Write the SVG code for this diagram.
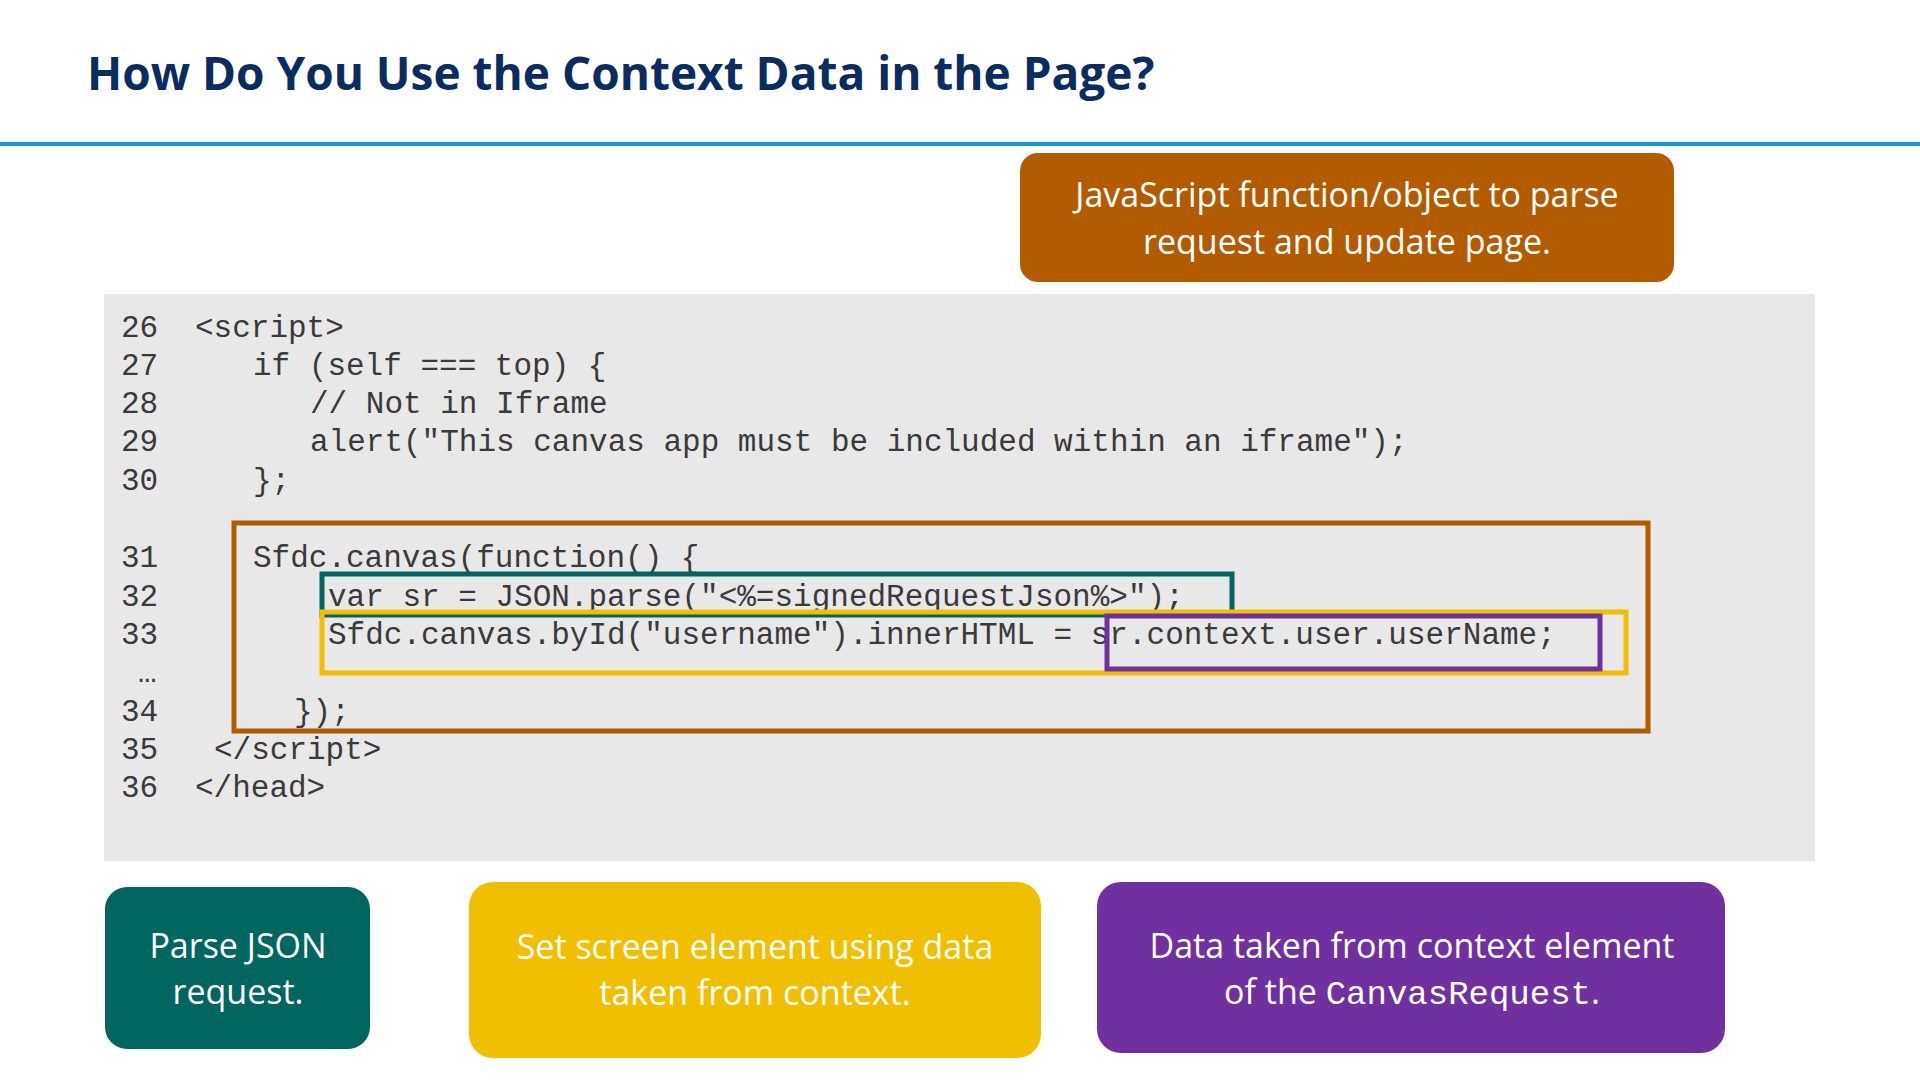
<svg xmlns="http://www.w3.org/2000/svg" width="1920" height="1080" viewBox="0 0 1920 1080">
<style>
.code{font-family:"Liberation Mono","Courier New",monospace;font-size:31px;fill:#3a3a3a}
.lbl{font-family:"Open Sans","Noto Sans",sans-serif;font-size:34px;fill:#fff;text-anchor:middle}
.hl{fill:none;stroke-width:5}
</style>
<rect width="1920" height="1080" fill="#fff"/>
<text x="87" y="90" font-family="Open Sans, Noto Sans, sans-serif" font-weight="bold" font-size="46" fill="#0b2c5e">How Do You Use the Context Data in the Page?</text>
<rect x="0" y="142" width="1920" height="4" fill="#0a9ad8"/>
<g id="note-js">
<rect x="1020" y="153" width="654" height="129" rx="18" fill="#b35b00"/>
<text class="lbl" x="1347" y="207">JavaScript function/object to parse</text>
<text class="lbl" x="1347" y="254">request and update page.</text>
</g>
<g id="code">
<rect x="104" y="294" width="1711" height="567" fill="#e8e8e8"/>
<g class="code" xml:space="preserve">
<text x="121" y="337">26  <tspan x="195">&lt;script&gt;</tspan></text>
<text x="121" y="375">27<tspan x="253">if (self === top) {</tspan></text>
<text x="121" y="413">28<tspan x="310">// Not in Iframe</tspan></text>
<text x="121" y="451">29<tspan x="310">alert("This canvas app must be included within an iframe");</tspan></text>
<text x="121" y="490">30<tspan x="253">};</tspan></text>
<text x="121" y="567">31<tspan x="253">Sfdc.canvas(function() {</tspan></text>
<text x="121" y="606">32<tspan x="328">var sr = JSON.parse("&lt;%=signedRequestJson%&gt;");</tspan></text>
<text x="121" y="644">33<tspan x="328">Sfdc.canvas.byId("username").innerHTML = sr.context.user.userName;</tspan></text>
<text x="138" y="682">…</text>
<text x="121" y="721">34<tspan x="294">});</tspan></text>
<text x="121" y="759">35<tspan x="214">&lt;/script&gt;</tspan></text>
<text x="121" y="797">36<tspan x="195">&lt;/head&gt;</tspan></text>
</g>
</g>
<g id="connectors">
<rect class="hl" x="234" y="523" width="1414" height="208" stroke="#b35b00"/>
<rect class="hl" x="322" y="574" width="910" height="41" stroke="#00665e"/>
<rect class="hl" x="322" y="612" width="1304" height="61" stroke="#f0c000"/>
<rect class="hl" x="1107" y="616" width="493" height="53" stroke="#7030a0"/>
</g>
<g id="note-parse">
<rect x="105" y="887" width="265" height="162" rx="22" fill="#00665e"/>
<text class="lbl" x="238" y="958">Parse JSON</text>
<text class="lbl" x="238" y="1004">request.</text>
</g>
<g id="note-set">
<rect x="469" y="882" width="572" height="176" rx="24" fill="#f0c000"/>
<text class="lbl" x="755" y="959">Set screen element using data</text>
<text class="lbl" x="755" y="1005">taken from context.</text>
</g>
<g id="note-data">
<rect x="1097" y="882" width="628" height="171" rx="24" fill="#7030a0"/>
<text class="lbl" x="1412" y="958">Data taken from context element</text>
<text class="lbl" x="1412" y="1004">of the <tspan font-family="Liberation Mono, monospace" font-size="34">CanvasRequest</tspan>.</text>
</g>
</svg>
